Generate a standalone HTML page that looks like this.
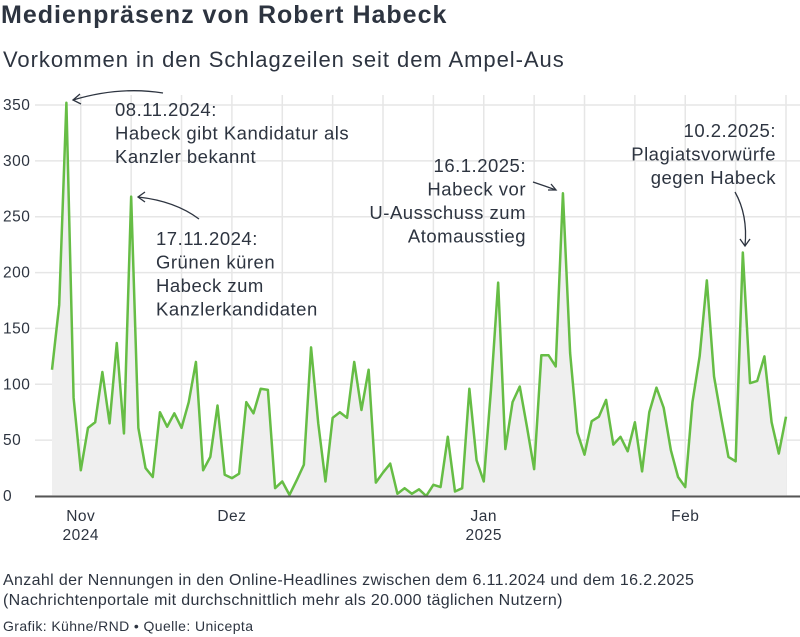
<!DOCTYPE html>
<html><head><meta charset="utf-8"><style>
body{margin:0;width:800px;height:637px;background:#fff;font-family:"Liberation Sans",sans-serif;color:#2d3440;overflow:hidden;position:relative}
.t{position:absolute;white-space:nowrap}
</style></head><body>
<div class="t" style="left:1px;top:1px;font-size:25px;letter-spacing:1px;font-weight:bold;color:#2d3440">Medienpräsenz von Robert Habeck</div>
<div class="t" style="left:3px;top:47px;font-size:22px;letter-spacing:0.95px;color:#2d3440">Vorkommen in den Schlagzeilen seit dem Ampel-Aus</div>
<svg id="chart" width="800" height="560" style="position:absolute;left:0;top:0" font-family="Liberation Sans, sans-serif"></svg>
<div class="t" style="left:3px;top:571px;font-size:16px;letter-spacing:0.35px;line-height:20px;color:#2d3440">Anzahl der Nennungen in den Online-Headlines zwischen dem 6.11.2024 und dem 16.2.2025<br>(Nachrichtenportale mit durchschnittlich mehr als 20.000 täglichen Nutzern)</div>
<div class="t" style="left:3px;top:618px;font-size:14px;letter-spacing:0.4px;color:#2d3440">Grafik: Kühne/RND • Quelle: Unicepta</div>
<script>
const values=[113,171,352,88,23,61,66,111,65,137,56,268,61,25,17,75,62,74,61,84,120,23,35,81,19,16,20,84,74,96,95,7,13,1,14,28,133,65,13,70,75,70,120,77,113,12,21,29,2,7,2,6,0,10,8,53,4,7,96,32,13,95,191,42,84,98,62,24,126,126,116,271,128,57,37,67,71,86,46,53,40,66,22,75,97,79,41,17,8,84,125,193,107,70,35,31,218,101,103,125,66,38,71];
const yTicks=[0,50,100,150,200,250,300,350];
const xLabels=[{i:4,a:"Nov",b:"2024"},{i:25,a:"Dez",b:""},{i:60,a:"Jan",b:"2025"},{i:88,a:"Feb",b:""}];
const NS="http://www.w3.org/2000/svg";
const svg=document.getElementById('chart');
const x=i=>52+i*(734/102);
const y=v=>496-v*(391/350);
function mk(tag,attrs){const e=document.createElementNS(NS,tag);for(const k in attrs)e.setAttribute(k,attrs[k]);svg.appendChild(e);return e;}
yTicks.forEach(t=>{
  const g=mk('line',{x1:35,x2:800,y1:y(t),y2:y(t),stroke:'#e6e6e6','stroke-width':1.5});
  
  
  const l=mk('text',{x:3,y:y(t)+5,'font-size':15.5,'letter-spacing':0.5,fill:'#2d3440'});l.textContent=t;
  
  
});
for(let i=4;i<values.length;i+=7){
  const g=mk('line',{x1:x(i),x2:x(i),y1:y(350)-10,y2:496,stroke:'#e6e6e6','stroke-width':1.5});
  
  
}
let d='M'+x(0)+','+y(0);values.forEach((v,i)=>d+='L'+x(i)+','+y(v));d+='L'+x(values.length-1)+','+y(0)+'Z';
const area=mk('path',{d:d,fill:'#efefef'});


let p='';values.forEach((v,i)=>p+=(i?'L':'M')+x(i)+','+y(v));
const line=mk('path',{d:p,fill:'none',stroke:'#66bd45','stroke-width':2.5,'stroke-linejoin':'round'});


const ax=mk('line',{x1:35,x2:800,y1:496.5,y2:496.5,stroke:'#555','stroke-width':2});


xLabels.forEach(o=>{
  const a=mk('text',{x:x(o.i),y:521,'font-size':15.5,'letter-spacing':0.5,fill:'#2d3440','text-anchor':'middle'});a.textContent=o.a;
  
  
  if(o.b){const b=mk('text',{x:x(o.i),y:540,'font-size':15.5,'letter-spacing':0.5,fill:'#2d3440','text-anchor':'middle'});b.textContent=o.b;
  
  }
});
function ann(lines,tx,ty,anchor,path,head,name){
  lines.forEach((s,k)=>{const t=mk('text',{x:tx,y:ty+k*23.5,'font-size':18.5,'letter-spacing':0.5,fill:'#2d3440','text-anchor':anchor});t.textContent=s;
  
  });
  const a=mk('path',{d:path,fill:'none',stroke:'#2d3440','stroke-width':1.3});
  
  
  const h=mk('path',{d:head,fill:'none',stroke:'#2d3440','stroke-width':1.3});
  
  
}
ann(["08.11.2024:","Habeck gibt Kandidatur als","Kanzler bekannt"],115,116,'start','M163,93 Q120,86 73,100','M80,94 L73,100 L81,104','annotation-nov8');
ann(["17.11.2024:","Grünen küren","Habeck zum","Kanzlerkandidaten"],156,245,'start','M199,219 Q175,201 138,197','M145,192 L138,197 L145,202','annotation-nov17');
ann(["16.1.2025:","Habeck vor","U-Ausschuss zum","Atomausstieg"],526,172,'end','M533,182 Q545,186 556,190','M548,190 L556,190 L551,184','annotation-jan16');
ann(["10.2.2025:","Plagiatsvorwürfe","gegen Habeck"],776,137,'end','M735,192 Q748,215 745,246','M740,239 L745,246 L750,239','annotation-feb10');
</script>
</body></html>
